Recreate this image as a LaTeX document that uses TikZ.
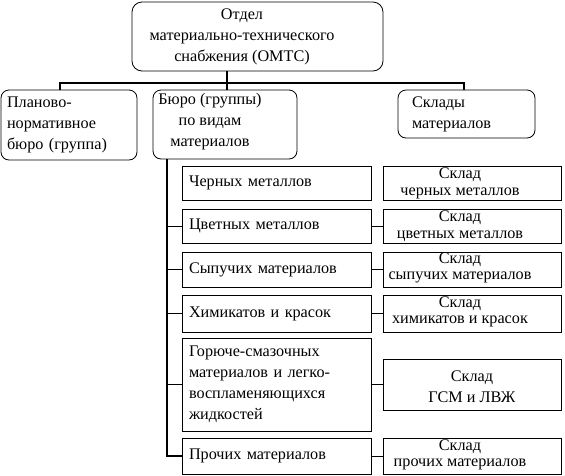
\documentclass[tikz,border=0pt]{standalone}
\usepackage{fontspec}
\setmainfont{Liberation Serif}

\begin{document}
\begin{tikzpicture}[x=1pt, y=-1pt,
                    every node/.style={font=\fontsize{16.2}{21}\selectfont},
                    roundbox/.style={draw, line width=0.8pt, rounded corners=8pt, inner sep=0pt},
                    rowbox/.style={draw, line width=0.8pt, minimum width=189pt, text width=175pt,
                                   inner xsep=7pt, inner ysep=0pt, align=left},
                    skladbox/.style={draw, line width=0.8pt, minimum width=178pt, inner sep=0pt},
                    boxtext/.style={align=center, inner sep=0pt},
                    skladtext/.style={align=center, inner sep=0pt, font=\fontsize{16.2}{16.5}\selectfont},
                    bus/.style={line width=1.6pt},
                    link/.style={line width=0.8pt}]

\useasboundingbox (0,0) rectangle (565,475);

%% ==== верхний уровень: отдел ========================================
\node[roundbox, rounded corners=10pt, minimum width=251pt, minimum height=69pt] (omts) at (257.5,36.5) {};
\node[boxtext] (omtst) at (242,37) {Отдел\\материально-технического\\снабжения  (ОМТС)};

%% ==== второй уровень ================================================
\node[roundbox, minimum width=136pt, minimum height=70pt, text width=124pt,
      inner xsep=6pt, align=left] (plan) at (69,125) {Планово-\\нормативное\\бюро (группа)};

\node[roundbox, minimum width=144pt, minimum height=69pt] (buro) at (225,124.5) {};
\node[boxtext] (burot) at (210,122) {Бюро (группы)\\по видам\\материалов};

\node[roundbox, minimum width=137pt, minimum height=48pt, text width=109pt,
      inner xsep=14pt, align=left] (sklady) at (466.5,114) {Склады\\материалов};

%% шина между уровнями
\coordinate (jL) at (60,83);
\coordinate (jM) at (227,83);
\coordinate (jR) at (464,83);
\draw[bus] (jL |- plan.north) -- (jL) -- (jR) -- (jR |- sklady.north);
\draw[bus] (jM |- omts.south) -- (jM |- buro.north);

%% ==== бюро по видам материалов ======================================
\node[rowbox, minimum height=34pt] (r1) at (276.5,183)   {Черных металлов};
\node[rowbox, minimum height=34pt] (r2) at (276.5,226)   {Цветных металлов};
\node[rowbox, minimum height=35pt] (r3) at (276.5,269.5) {Сыпучих материалов};
\node[rowbox, minimum height=37pt] (r4) at (276.5,313.5) {Химикатов и красок};
\node[rowbox, minimum height=93pt] (r5) at (276.5,384.5)
  {Горюче-смазочных\\материалов и легко-\\воспламеняющихся\\жидкостей};
\node[rowbox, minimum height=36pt] (r6) at (276.5,456)   {Прочих  материалов};

%% ==== склады ========================================================
\node[skladbox, minimum height=34pt] (s1) at (472,183)   {};
\node[skladbox, minimum height=34pt] (s2) at (472,226)   {};
\node[skladbox, minimum height=35pt] (s3) at (472,269.5) {};
\node[skladbox, minimum height=37pt] (s4) at (472,313.5) {};
\node[skladbox, minimum height=51pt] (s5) at (472,384.5) {};
\node[skladbox, minimum height=36pt] (s6) at (472,456)   {};

\node[skladtext] (s1t) at (460,183.5) {Склад\\черных металлов};
\node[skladtext] (s2t) at (460,226)   {Склад\\цветных металлов};
\node[skladtext] (s3t) at (460,268)   {Склад\\сыпучих материалов};
\node[skladtext] (s4t) at (460,312)   {Склад\\химикатов и красок};
\node[boxtext]   (s5t) at (472,387)   {Склад\\ГСМ и ЛВЖ};
\node[skladtext] (s6t) at (460,455)   {Склад\\прочих  материалов};

%% ствол от бюро вниз
\coordinate (trunk) at (167,0);
\draw[line width=2pt] (trunk |- buro.south) -- (trunk |- r6.west) -- (r6.west);

\foreach \r in {r2,r3,r4,r5}
  \draw[link] (trunk |- \r.west) -- (\r.west);

\foreach \r/\s in {r2/s2,r3/s3,r4/s4,r5/s5,r6/s6}
  \draw[link] (\r.east) -- (\s.west);

\end{tikzpicture}
\end{document}
